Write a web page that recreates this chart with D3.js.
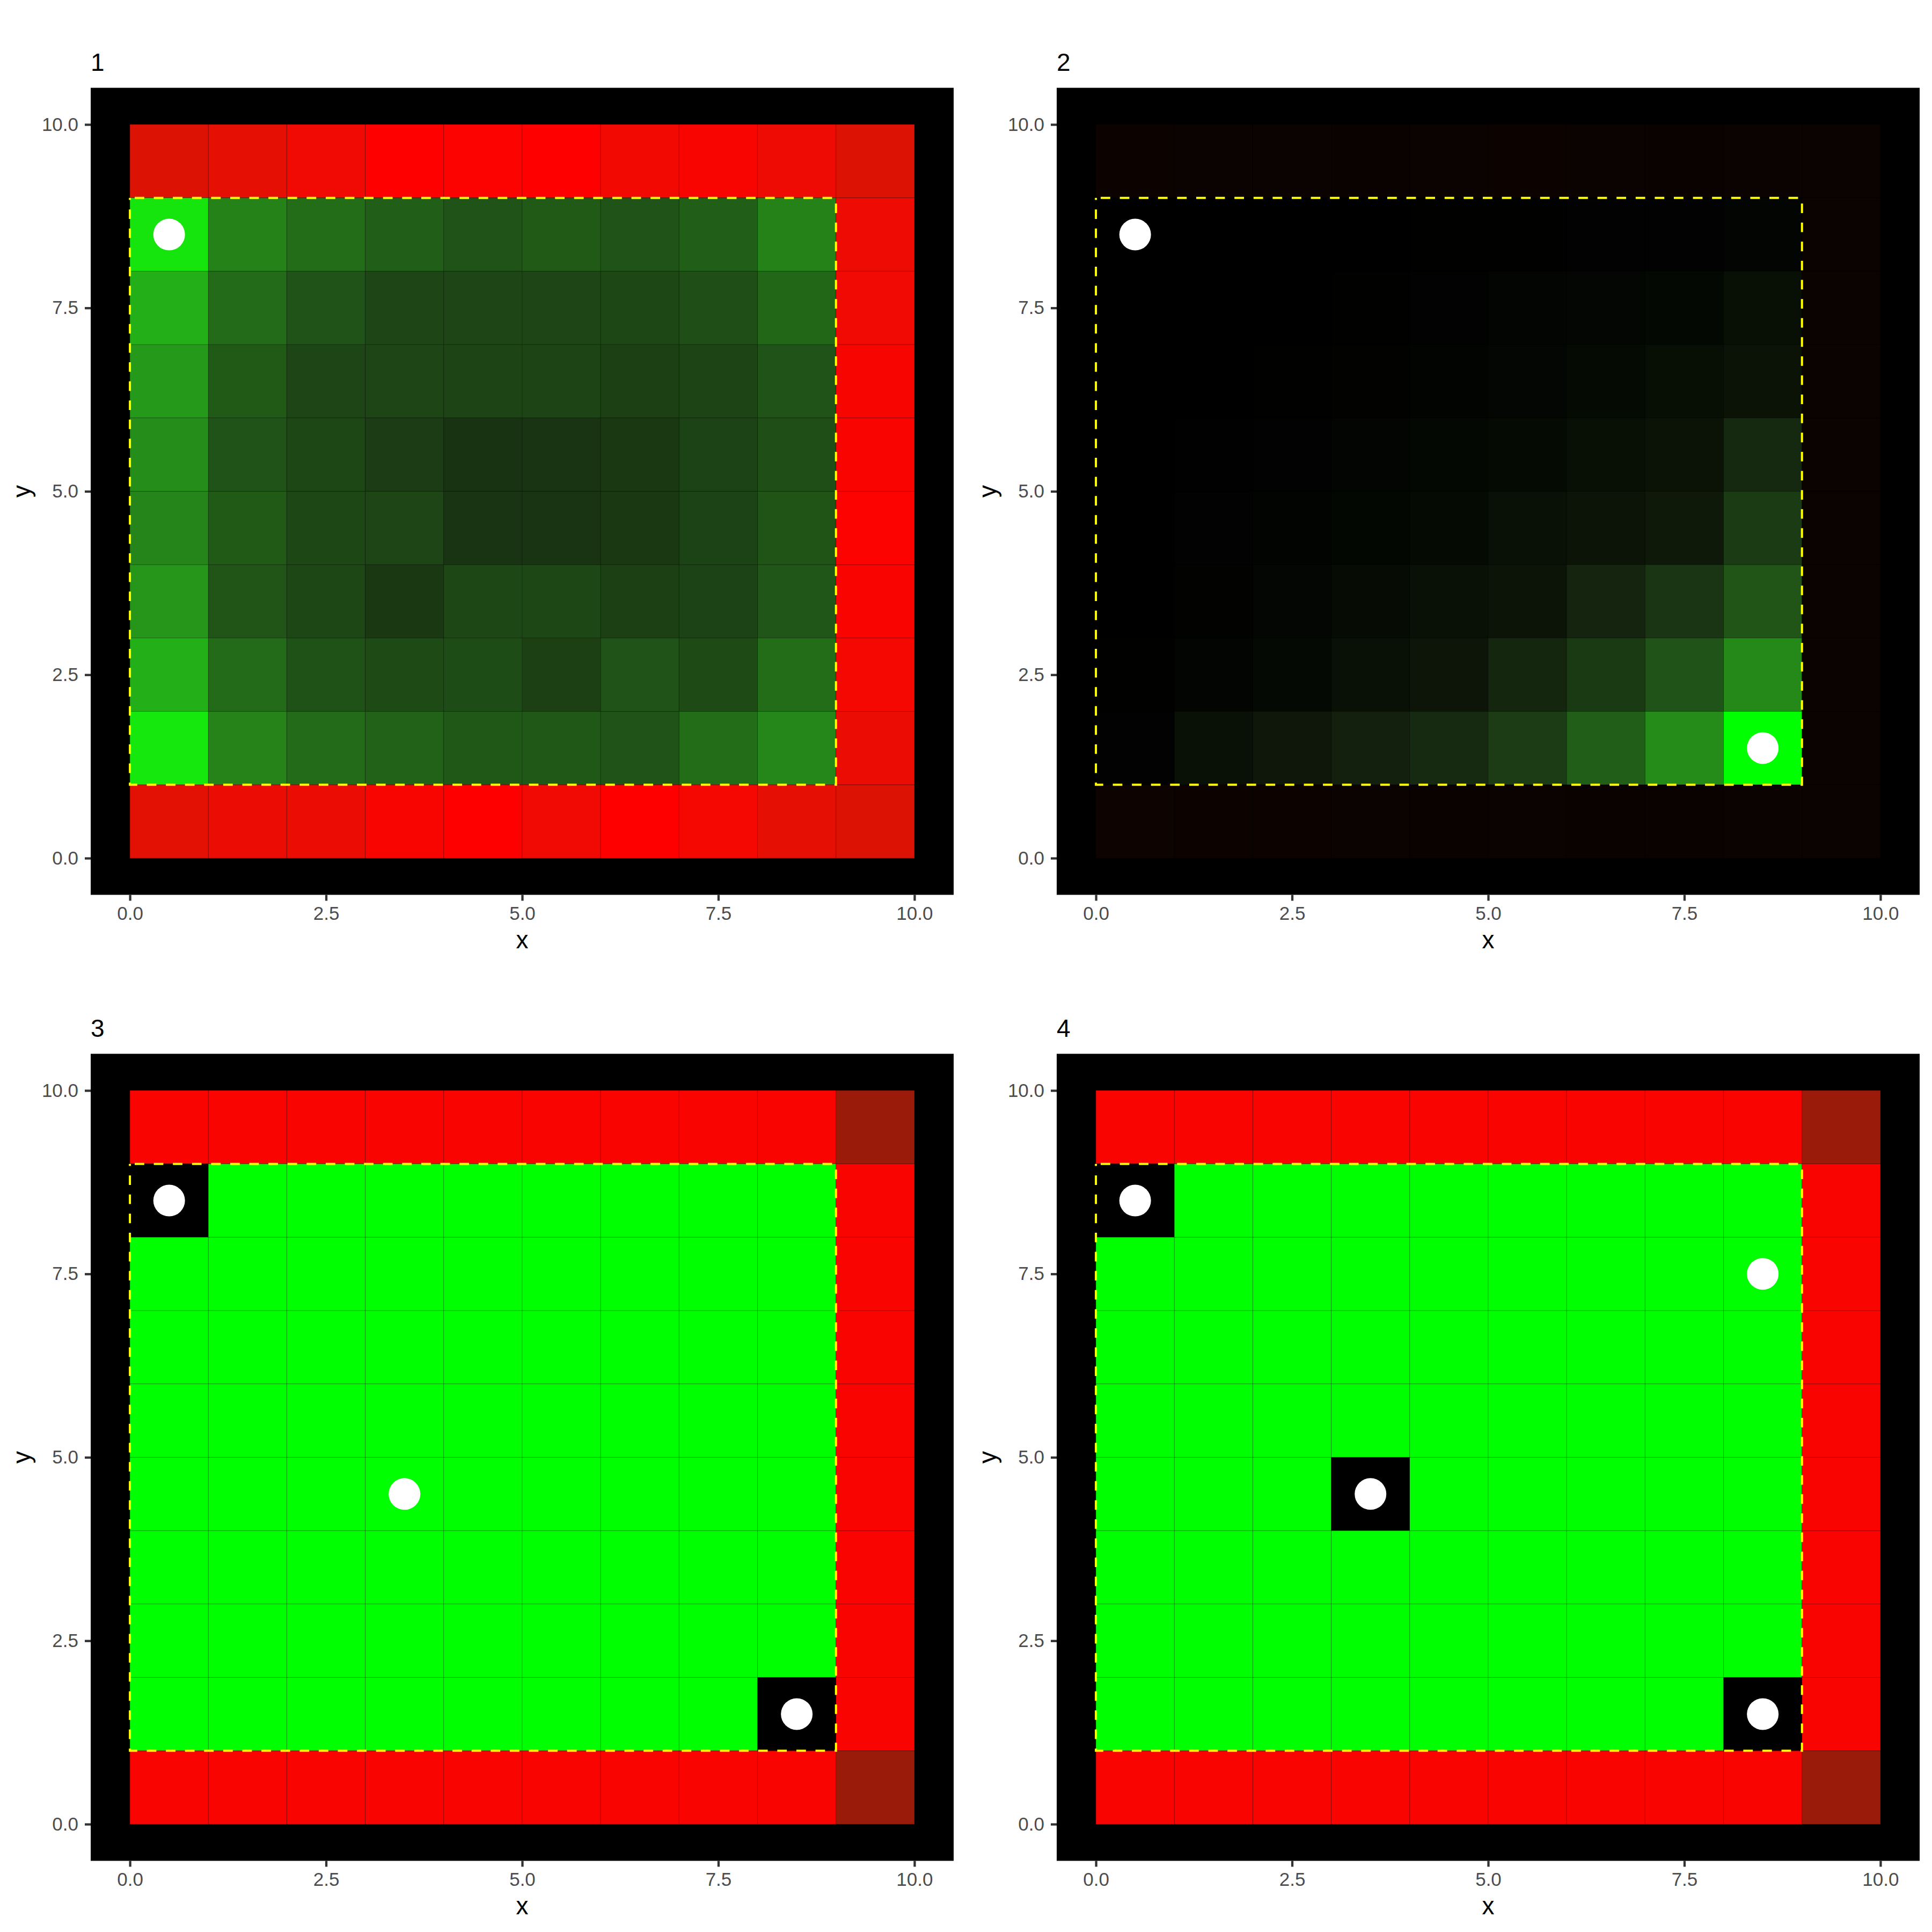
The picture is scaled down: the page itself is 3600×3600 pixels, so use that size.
<!DOCTYPE html>
<html>
<head>
<meta charset="utf-8">
<script src="https://cdn.jsdelivr.net/npm/d3@7"></script>
<style>
  html, body { margin: 0; padding: 0; background: #ffffff; }
  svg { display: block; }
</style>
</head>
<body>
<script>
// ---------------- DATA ----------------
// Panel titles
const panelTitles = ["1", "2", "3", "4"];
// Axis tick values / labels
const tickValues = [0, 2.5, 5, 7.5, 10];
const tickLabels = ["0.0", "2.5", "5.0", "7.5", "10.0"];
// Grid columns / rows (tile lower-left corners)
const gridCols = [0, 1, 2, 3, 4, 5, 6, 7, 8, 9];
const gridRowsTopToBottom = [9, 8, 7, 6, 5, 4, 3, 2, 1, 0];

// Tile values: positive = green intensity, negative = red intensity (rows listed y=9 .. y=0)
const panel1Values = [
  [-0.873, -0.905, -0.945, -1.0, -0.99, -1.0, -0.95, -0.975, -0.94, -0.873],
  [0.91, 0.54, 0.46, 0.40, 0.35, 0.38, 0.35, 0.40, 0.54, -0.94],
  [0.715, 0.45, 0.35, 0.29, 0.29, 0.29, 0.30, 0.33, 0.43, -0.945],
  [0.63, 0.38, 0.29, 0.29, 0.285, 0.285, 0.27, 0.285, 0.35, -0.97],
  [0.59, 0.35, 0.30, 0.25, 0.21, 0.215, 0.235, 0.28, 0.335, -0.98],
  [0.555, 0.38, 0.30, 0.29, 0.215, 0.215, 0.235, 0.28, 0.355, -0.99],
  [0.62, 0.36, 0.30, 0.235, 0.305, 0.305, 0.27, 0.28, 0.365, -0.98],
  [0.715, 0.45, 0.345, 0.31, 0.32, 0.27, 0.35, 0.31, 0.46, -0.965],
  [0.92, 0.545, 0.45, 0.41, 0.37, 0.37, 0.35, 0.46, 0.56, -0.93],
  [-0.9, -0.93, -0.927, -0.975, -1.0, -0.945, -1.0, -0.965, -0.91, -0.873]
];
const panel2Values = [
  [-0.025, -0.022, -0.022, -0.019, -0.022, -0.025, -0.022, -0.018, -0.022, -0.022],
  [0, 0, 0, 0, 0.003, 0.003, 0.005, 0.005, 0.013, -0.022],
  [0, 0, 0, 0.003, 0.005, 0.012, 0.016, 0.022, 0.04, -0.022],
  [0, 0, 0.003, 0.008, 0.01, 0.015, 0.028, 0.038, 0.055, -0.022],
  [0, 0.002, 0.006, 0.013, 0.022, 0.028, 0.04, 0.055, 0.16, -0.022],
  [0, 0.005, 0.01, 0.018, 0.027, 0.045, 0.06, 0.085, 0.245, -0.022],
  [0, 0.008, 0.016, 0.03, 0.045, 0.06, 0.14, 0.22, 0.36, -0.022],
  [0.003, 0.013, 0.025, 0.045, 0.065, 0.15, 0.24, 0.35, 0.57, -0.022],
  [0.005, 0.045, 0.075, 0.12, 0.17, 0.25, 0.40, 0.58, 1.0, -0.021],
  [-0.028, -0.025, -0.025, -0.022, -0.019, -0.021, -0.019, -0.019, -0.021, -0.021]
];
const panel3Values = [
  [-0.98, -0.98, -0.98, -0.98, -0.98, -0.98, -0.98, -0.98, -0.98, -0.63],
  [0, 1, 1, 1, 1, 1, 1, 1, 1, -0.98],
  [1, 1, 1, 1, 1, 1, 1, 1, 1, -0.98],
  [1, 1, 1, 1, 1, 1, 1, 1, 1, -0.98],
  [1, 1, 1, 1, 1, 1, 1, 1, 1, -0.98],
  [1, 1, 1, 1, 1, 1, 1, 1, 1, -0.98],
  [1, 1, 1, 1, 1, 1, 1, 1, 1, -0.98],
  [1, 1, 1, 1, 1, 1, 1, 1, 1, -0.98],
  [1, 1, 1, 1, 1, 1, 1, 1, 0, -0.98],
  [-0.98, -0.98, -0.98, -0.98, -0.98, -0.98, -0.98, -0.98, -0.98, -0.63]
];
const panel4Values = [
  [-0.98, -0.98, -0.98, -0.98, -0.98, -0.98, -0.98, -0.98, -0.98, -0.63],
  [0, 1, 1, 1, 1, 1, 1, 1, 1, -0.98],
  [1, 1, 1, 1, 1, 1, 1, 1, 1, -0.98],
  [1, 1, 1, 1, 1, 1, 1, 1, 1, -0.98],
  [1, 1, 1, 1, 1, 1, 1, 1, 1, -0.98],
  [1, 1, 1, 0, 1, 1, 1, 1, 1, -0.98],
  [1, 1, 1, 1, 1, 1, 1, 1, 1, -0.98],
  [1, 1, 1, 1, 1, 1, 1, 1, 1, -0.98],
  [1, 1, 1, 1, 1, 1, 1, 1, 0, -0.98],
  [-0.98, -0.98, -0.98, -0.98, -0.98, -0.98, -0.98, -0.98, -0.98, -0.63]
];

// Points (white markers)
const panel1Points = [[0.5, 8.5]];
const panel2Points = [[0.5, 8.5], [8.5, 1.5]];
const panel3Points = [[0.5, 8.5], [3.5, 4.5], [8.5, 1.5]];
const panel4Points = [[0.5, 8.5], [8.5, 7.5], [3.5, 4.5], [8.5, 1.5]];

// Dashed region (xmin, xmax, ymin, ymax)
const regionX = [0, 9];
const regionY = [1, 9];

const panelValues = [panel1Values, panel2Values, panel3Values, panel4Values];
const panelPoints = [panel1Points, panel2Points, panel3Points, panel4Points];

// ---------------- COLOUR (CIELAB, D65) ----------------
function toLin(c) { c /= 255; return c <= 0.04045 ? c / 12.92 : Math.pow((c + 0.055) / 1.055, 2.4); }
function toSrgb(v) { v = v <= 0.0031308 ? 12.92 * v : 1.055 * Math.pow(Math.max(v, 0), 1 / 2.4) - 0.055; return Math.max(0, Math.min(255, Math.round(v * 255))); }
const Xn = 0.95047, Yn = 1.0, Zn = 1.08883;
function fLab(t) { return t > 0.008856 ? Math.cbrt(t) : 7.787 * t + 16 / 116; }
function fInv(f) { const f3 = f * f * f; return f3 > 0.008856 ? f3 : (f - 16 / 116) / 7.787; }
function hexToLab(h) {
  const c = d3.rgb(h);
  const R = toLin(c.r), G = toLin(c.g), B = toLin(c.b);
  const X = 0.4124 * R + 0.3576 * G + 0.1805 * B;
  const Y = 0.2126 * R + 0.7152 * G + 0.0722 * B;
  const Z = 0.0193 * R + 0.1192 * G + 0.9505 * B;
  const fx = fLab(X / Xn), fy = fLab(Y / Yn), fz = fLab(Z / Zn);
  return [116 * fy - 16, 500 * (fx - fy), 200 * (fy - fz)];
}
function labToRgb(L, a, b) {
  const fy = (L + 16) / 116, fx = fy + a / 500, fz = fy - b / 200;
  const X = Xn * fInv(fx), Y = Yn * fInv(fy), Z = Zn * fInv(fz);
  const R = 3.2406 * X - 1.5372 * Y - 0.4986 * Z;
  const G = -0.9689 * X + 1.8758 * Y + 0.0415 * Z;
  const B = 0.0557 * X - 0.2040 * Y + 1.0570 * Z;
  return d3.rgb(toSrgb(R), toSrgb(G), toSrgb(B)).formatHex();
}
function interpolateLabD65(a, b) {
  const A = hexToLab(a), B = hexToLab(b);
  return t => labToRgb(A[0] + (B[0] - A[0]) * t, A[1] + (B[1] - A[1]) * t, A[2] + (B[2] - A[2]) * t);
}
const greenScale = d3.scaleLinear().domain([0, 1]).range(["#000000", "#00ff00"]).interpolate(interpolateLabD65).clamp(true);
const redScale = d3.scaleLinear().domain([0, 1]).range(["#000000", "#ff0000"]).interpolate(interpolateLabD65).clamp(true);
const fillFor = v => v >= 0 ? greenScale(v) : redScale(-v);

// ---------------- LAYOUT ----------------
const W = 3600, H = 3600;
const font = "'Liberation Sans', Arial, Helvetica, sans-serif";
const svg = d3.select("body").append("svg").attr("width", W).attr("height", H);
svg.append("rect").attr("width", W).attr("height", H).attr("fill", "#ffffff");

const panelLeft = 169, panelRight = 1777, panelTop = 163.6, panelBottom = 1667.4;

panelValues.forEach((vals, p) => {
  const ox = (p % 2) * 1800, oy = Math.floor(p / 2) * 1800;
  const xs = d3.scaleLinear().domain([-0.5, 10.5]).range([ox + panelLeft, ox + panelRight]);
  const ys = d3.scaleLinear().domain([-0.5, 10.5]).range([oy + panelBottom, oy + panelTop]);
  const g = svg.append("g");

  // panel background
  g.append("rect")
    .attr("x", xs(-0.5)).attr("y", ys(10.5))
    .attr("width", xs(10.5) - xs(-0.5)).attr("height", ys(-0.5) - ys(10.5))
    .attr("fill", "#000000");

  // tiles
  const cells = [];
  vals.forEach((row, r) => row.forEach((v, c) => cells.push({ x: gridCols[c], y: gridRowsTopToBottom[r], v })));
  g.selectAll("rect.tile").data(cells).enter().append("rect")
    .attr("class", "tile")
    .attr("x", d => xs(d.x)).attr("y", d => ys(d.y + 1))
    .attr("width", d => xs(d.x + 1) - xs(d.x))
    .attr("height", d => ys(d.y) - ys(d.y + 1))
    .attr("fill", d => fillFor(d.v))
    .attr("stroke", "rgba(0,0,0,0.18)")
    .attr("stroke-width", 1.1);

  // dashed region
  g.append("rect")
    .attr("x", xs(regionX[0])).attr("y", ys(regionY[1]))
    .attr("width", xs(regionX[1]) - xs(regionX[0]))
    .attr("height", ys(regionY[0]) - ys(regionY[1]))
    .attr("fill", "none").attr("stroke", "#ffff00")
    .attr("stroke-width", 4)
    .attr("stroke-dasharray", "17.8,17.8")
    .attr("stroke-dashoffset", 26.7);

  // points
  g.selectAll("circle.pt").data(panelPoints[p]).enter().append("circle")
    .attr("class", "pt")
    .attr("cx", d => xs(d[0])).attr("cy", d => ys(d[1]))
    .attr("r", 29.5).attr("fill", "#ffffff");

  // axes
  const yAxis = d3.axisLeft(ys).tickValues(tickValues).tickFormat((d, i) => tickLabels[i]).tickSize(11).tickPadding(12);
  const xAxis = d3.axisBottom(xs).tickValues(tickValues).tickFormat((d, i) => tickLabels[i]).tickSize(11).tickPadding(10.6);
  const ya = g.append("g").attr("transform", `translate(${xs(-0.5)},0)`).call(yAxis);
  const xa = g.append("g").attr("transform", `translate(0,${ys(-0.5)})`).call(xAxis);
  [ya, xa].forEach(a => {
    a.select(".domain").remove();
    a.selectAll(".tick line").attr("stroke", "#333333").attr("stroke-width", 4.3);
    a.selectAll(".tick text").attr("fill", "#4d4d4d").style("font-family", font).style("font-size", "35px");
  });

  // axis titles
  g.append("text")
    .attr("x", (xs(-0.5) + xs(10.5)) / 2).attr("y", oy + 1767)
    .attr("text-anchor", "middle").attr("fill", "#000000")
    .style("font-family", font).style("font-size", "46px").text("x");
  g.append("text")
    .attr("transform", `translate(${ox + 56},${(ys(-0.5) + ys(10.5)) / 2}) rotate(-90)`)
    .attr("text-anchor", "middle").attr("fill", "#000000")
    .style("font-family", font).style("font-size", "46px").text("y");

  // panel title
  g.append("text")
    .attr("x", ox + 169).attr("y", oy + 132)
    .attr("fill", "#000000")
    .style("font-family", font).style("font-size", "46px").text(panelTitles[p]);
});
</script>
</body>
</html>
